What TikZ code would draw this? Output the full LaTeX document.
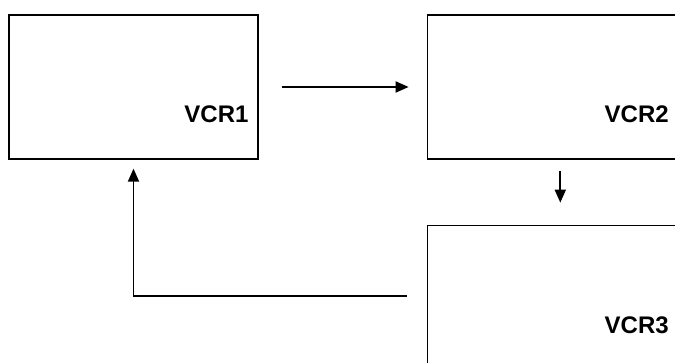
\documentclass[tikz,border=0pt]{standalone}
\usepackage{fontspec}
\setmainfont{Liberation Sans}
\usepackage{tikz}
\usetikzlibrary{arrows.meta,positioning,calc}
\tikzset{
  vcr/.style={rectangle,draw,line width=1.3pt,minimum width=249pt,
    minimum height=144pt,inner sep=0pt},
  tag/.style={font=\fontsize{24}{24}\selectfont\bfseries,inner sep=0pt},
  arrow/.style={-{Triangle[length=13pt,width=11pt]},line width=1.8pt},
}
\begin{document}
\begin{tikzpicture}[x=1pt,y=-1pt]
\clip (0,0) rectangle (675,363);
\node[vcr] (vcr1) at (133.5,87) {};
\node[vcr,minimum width=266pt,right=168pt of vcr1] (vcr2) {};
\node[vcr,minimum width=266pt,minimum height=142pt,below=65pt of vcr2] (vcr3) {};

\node[tag,anchor=base east] (t1) at ($(vcr1.south east)+(-10,-37)$) {VCR1};
\node[tag,anchor=base east] (t2) at ($(vcr2.south east)+(-25,-37)$) {VCR2};
\node[tag,anchor=base east] (t3) at ($(vcr3.north east)+(-25,109)$) {VCR3};

\draw[arrow,shorten <=23pt,shorten >=18pt] (vcr1) -- (vcr2);
\draw[arrow,shorten <=11pt,shorten >=22pt] (vcr2) -- (vcr3);
\draw[arrow,shorten <=20pt,shorten >=9pt] (vcr3.west) -| (vcr1.south);
\end{tikzpicture}
\end{document}
